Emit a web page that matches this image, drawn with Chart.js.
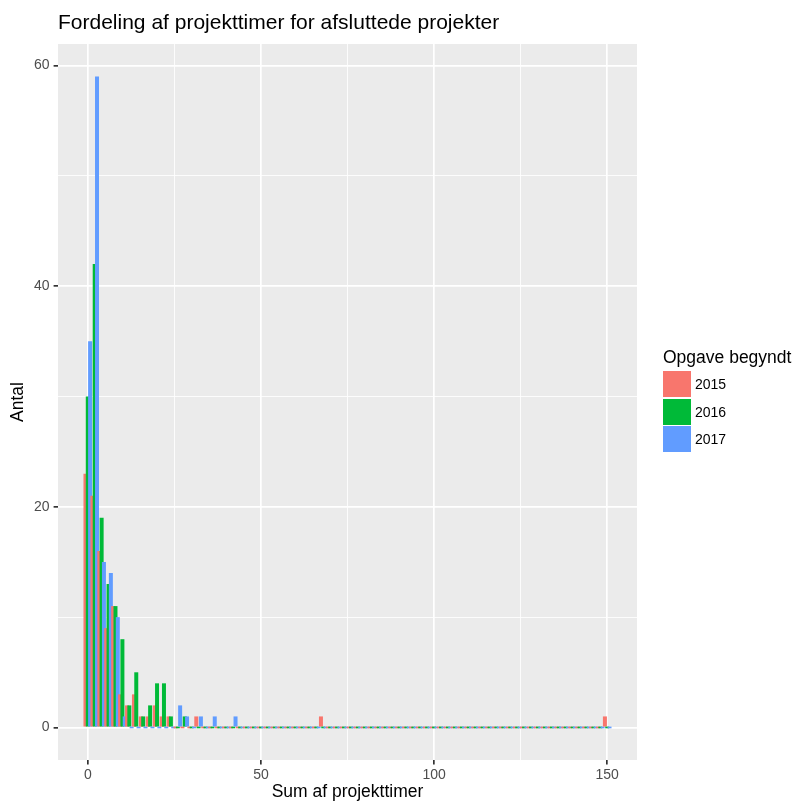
<!DOCTYPE html>
<html><head><meta charset="utf-8">
<script src="https://cdn.jsdelivr.net/npm/chart.js@4.4.0/dist/chart.umd.min.js"></script>
<style>
html,body{margin:0;padding:0;background:#fff;}
#wrap{position:relative;width:793px;height:803px;overflow:hidden;}
canvas{position:absolute;left:0;top:0;}
.t{position:absolute;font-family:"Liberation Sans",Arial,Helvetica,sans-serif;color:#000;white-space:nowrap;}
.key{position:absolute;}
</style></head><body>
<div id="wrap">
<canvas id="c" width="793" height="803"></canvas>
<div class="t" id="title" style="left:58px;top:11px;font-size:21px;line-height:21px;">Fordeling af projekttimer for afsluttede projekter</div>
<div id="legend"></div>
</div>
<script>
// ---- data ----
const binCenters = [0,2,4,6,8,10,12,14,16,18,20,22,24,26,28,30,32,34,36,38,40,42,44,46,48,50,52,54,56,58,60,62,64,66,68,70,72,74,76,78,80,82,84,86,88,90,92,94,96,98,100,102,104,106,108,110,112,114,116,118,120,122,124,126,128,130,132,134,136,138,140,142,144,146,148,150];
const counts2015 = [23,21,16,9,11,3,2,3,1,1, 2,1,1,0,0,0,1,0,0,0, 0,0,0,0,0,0,0,0,0,0, 0,0,0,0,1,0,0,0,0,0, 0,0,0,0,0,0,0,0,0,0, 0,0,0,0,0,0,0,0,0,0, 0,0,0,0,0,0,0,0,0,0, 0,0,0,0,0,1];
const counts2016 = [30,42,19,13,11,8,2,5,1,2, 4,4,1,0,1,0,0,0,0,0, 0,0,0,0,0,0,0,0,0,0, 0,0,0,0,0,0,0,0,0,0, 0,0,0,0,0,0,0,0,0,0, 0,0,0,0,0,0,0,0,0,0, 0,0,0,0,0,0,0,0,0,0, 0,0,0,0,0,0];
const counts2017 = [35,59,15,14,10,1,0,0,0,0, 0,0,0,2,1,0,1,0,1,0, 0,1,0,0,0,0,0,0,0,0, 0,0,0,0,0,0,0,0,0,0, 0,0,0,0,0,0,0,0,0,0, 0,0,0,0,0,0,0,0,0,0, 0,0,0,0,0,0,0,0,0,0, 0,0,0,0,0,0];
const seriesNames = ['2015','2016','2017'];
const seriesCounts = [counts2015, counts2016, counts2017];
const seriesColors = ['#F8766D','#00BA38','#619CFF'];
const xTickValues = [0,25,50,75,100,125,150];
const xTickLabels = ['0','','50','','100','','150'];
const yTickValues = [0,10,20,30,40,50,60];
const yTickLabels = ['0','','20','','40','','60'];
const titleText = 'Fordeling af projekttimer for afsluttede projekter';
const xTitle = 'Sum af projekttimer';
const yTitle = 'Antal';
const legendTitle = 'Opgave begyndt';

// ---- legend (HTML) ----
const FAM = '"Liberation Sans", Arial, Helvetica, sans-serif';
(function(){
  const lg = document.getElementById('legend');
  const t = document.createElement('div');
  t.className = 't';
  t.style.cssText = 'left:663px;top:349px;font-size:17.5px;line-height:17.5px;';
  t.textContent = legendTitle;
  lg.appendChild(t);
  seriesNames.forEach((n,i)=>{
    const top = 371 + i*27.6;
    const k = document.createElement('div');
    k.className = 'key';
    k.style.cssText = `left:663px;top:${top}px;width:27.5px;height:26.2px;background:${seriesColors[i]};`;
    lg.appendChild(k);
    const l = document.createElement('div');
    l.className = 't';
    l.style.cssText = `left:695px;top:${top+13.1-6.9}px;font-size:14px;line-height:14px;`;
    l.textContent = n;
    lg.appendChild(l);
  });
})();

// ---- chart ----
const bgPlugin = {
  id:'panelBg',
  beforeDraw(chart){
    const {ctx, chartArea:a} = chart;
    ctx.save();
    ctx.fillStyle = '#EBEBEB';
    ctx.fillRect(a.left, a.top, a.right-a.left, a.bottom-a.top);
    ctx.restore();
  }
};
// draw bars bin by bin (2015, 2016, 2017 within each bin) like ggplot's dodge order
const binOrderPlugin = {
  id:'binOrder',
  beforeDatasetsDraw(chart){
    const ctx = chart.ctx, a = chart.chartArea;
    const metas = seriesNames.map((_,i)=>chart.getDatasetMeta(i));
    ctx.save();
    ctx.beginPath();
    ctx.rect(a.left, a.top, a.right-a.left, a.bottom-a.top);
    ctx.clip();
    for (let j=0;j<binCenters.length;j++){
      for (const m of metas){ if (m.data[j]) m.data[j].draw(ctx, a); }
    }
    ctx.restore();
    return false;
  }
};

const isMajor = (vals, labels, v) => { const i = vals.indexOf(v); return i>=0 && labels[i] !== ''; };

new Chart(document.getElementById('c'), {
  type:'bar',
  data:{
    datasets: seriesNames.map((n,i)=>({
      label:n,
      data: binCenters.map((x,j)=>({x:x, y:seriesCounts[i][j]})),
      backgroundColor: seriesColors[i],
      borderWidth:0,
      barPercentage:1.73,
      categoryPercentage:1,
      minBarLength:1.7
    }))
  },
  options:{
    responsive:false,
    animation:false,
    devicePixelRatio:1,
    layout:{padding:{top:44,right:156,left:0,bottom:0}},
    plugins:{legend:{display:false}, title:{display:false}, tooltip:{enabled:false}},
    scales:{
      x:{
        type:'linear', min:-8.6, max:158.6, offset:false,
        grid:{
          offset:false, color:'#FFFFFF',
          lineWidth: c => isMajor(xTickValues, xTickLabels, c.tick.value) ? 1.7 : 0.85,
          tickColor: c => isMajor(xTickValues, xTickLabels, c.tick.value) ? '#333333' : 'rgba(0,0,0,0)',
          tickWidth: 1.7, tickLength:4.4, drawTicks:true
        },
        border:{display:false},
        ticks:{
          autoSkip:false, maxRotation:0, minRotation:0, color:'#4D4D4D', padding:2,
          font:{size:14, family:FAM},
          callback: v => { const i = xTickValues.indexOf(v); return i>=0 ? xTickLabels[i] : ''; }
        },
        afterBuildTicks: s => { s.ticks = xTickValues.map(v=>({value:v})); },
        afterFit: s => { s.height = 43; },
        title:{display:true, text:xTitle, color:'#000', font:{size:17.5, family:FAM}, padding:{top:0,bottom:0}}
      },
      y:{
        type:'linear', min:-2.95, max:61.95,
        grid:{
          color:'#FFFFFF',
          lineWidth: c => isMajor(yTickValues, yTickLabels, c.tick.value) ? 1.7 : 0.85,
          tickColor: c => isMajor(yTickValues, yTickLabels, c.tick.value) ? '#333333' : 'rgba(0,0,0,0)',
          tickWidth: 1.7, tickLength:4.4, drawTicks:true
        },
        border:{display:false},
        ticks:{
          autoSkip:false, color:'#4D4D4D', padding:4,
          font:{size:14, family:FAM},
          callback: v => { const i = yTickValues.indexOf(v); return i>=0 ? yTickLabels[i] : ''; }
        },
        afterBuildTicks: s => { s.ticks = yTickValues.map(v=>({value:v})); },
        afterFit: s => { s.width = 58; },
        title:{display:true, text:yTitle, color:'#000', font:{size:17.5, family:FAM}, padding:{top:7.5,bottom:0}}
      }
    }
  },
  plugins:[bgPlugin, binOrderPlugin]
});
</script>
</body></html>
